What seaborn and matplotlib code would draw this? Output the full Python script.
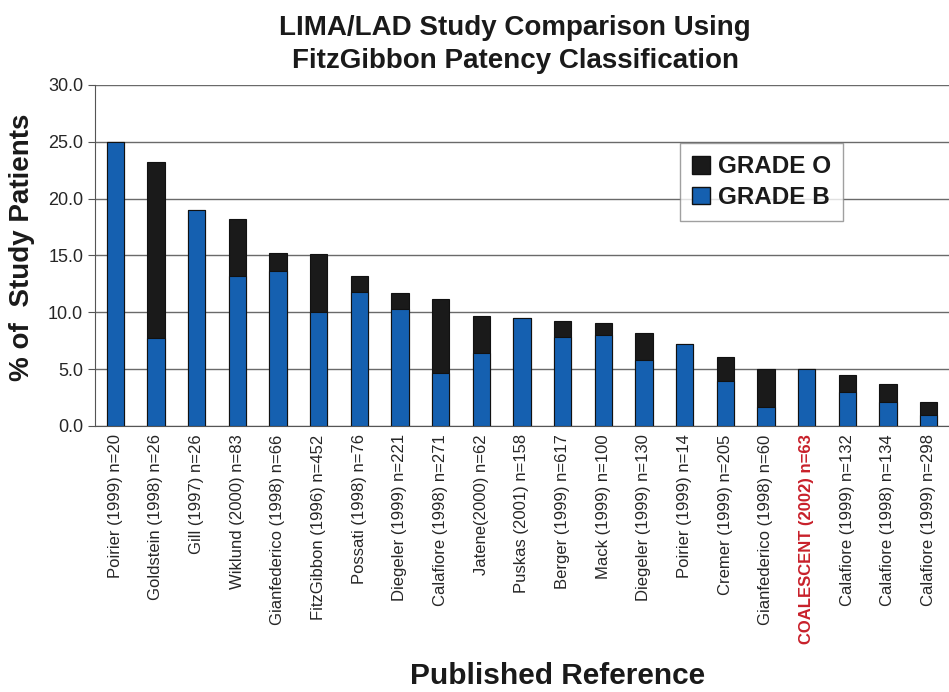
import matplotlib
matplotlib.use("Agg")
import matplotlib.pyplot as plt
import seaborn as sns
import pandas as pd
import numpy as np
from matplotlib.patches import Patch

references = ["Poirier (1999) n=20", "Goldstein (1998) n=26", "Gill (1997) n=26",
              "Wiklund (2000) n=83", "Gianfederico (1998) n=66", "FitzGibbon (1996) n=452",
              "Possati (1998) n=76", "Diegeler (1999) n=221", "Calafiore (1998) n=271",
              "Jatene(2000) n=62", "Puskas (2001) n=158", "Berger (1999) n=617",
              "Mack (1999) n=100", "Diegeler (1999) n=130", "Poirier (1999) n=14",
              "Cremer (1999) n=205", "Gianfederico (1998) n=60", "COALESCENT (2002) n=63",
              "Calafiore (1999) n=132", "Calafiore (1998) n=134", "Calafiore (1999) n=298"]
grade_b = [25.0, 7.7, 19.0, 13.2, 13.6, 10.0, 11.8, 10.3, 4.7, 6.4, 9.5,
           7.8, 8.0, 5.8, 7.2, 4.0, 1.7, 5.0, 3.0, 2.1, 1.0]
grade_o = [0.0, 15.5, 0.0, 5.0, 1.6, 5.1, 1.4, 1.4, 6.5, 3.3, 0.0,
           1.4, 1.1, 2.4, 0.0, 2.1, 3.3, 0.0, 1.5, 1.6, 1.1]
highlight = "COALESCENT (2002) n=63"
title_lines = ["LIMA/LAD Study Comparison Using", "FitzGibbon Patency Classification"]

blue = "#1560b0"
black = "#1a1a1a"

df = pd.DataFrame({"ref": references, "B": grade_b, "O": grade_o})
df["total"] = df["B"] + df["O"]

sns.set_style("white")
plt.rcParams["font.family"] = ["Liberation Sans", "DejaVu Sans"]

fig = plt.figure(figsize=(9.49, 6.92), dpi=100)
ax = fig.add_axes([0.1001, 0.3844, 0.8999, 0.4928])

sns.barplot(data=df, x="ref", y="total", color=black, width=0.43,
            edgecolor="#111111", linewidth=0.8, saturation=1, ax=ax, zorder=3)
sns.barplot(data=df, x="ref", y="B", color=blue, width=0.43,
            edgecolor="#111111", linewidth=0.8, saturation=1, ax=ax, zorder=4)

n = len(references)
ax.set_xlim(-0.5, n - 0.5)
ax.set_ylim(0, 30)
ax.set_yticks(np.arange(0, 30.1, 5))
ax.set_yticklabels([f"{v:.1f}" for v in np.arange(0, 30.1, 5)], fontsize=13)
ax.yaxis.grid(True, color="#6a6a6a", linewidth=1.0, zorder=0)
ax.set_axisbelow(True)

ax.set_xticks(range(n))
ax.set_xticklabels(references, rotation=90, fontsize=12)
for lbl in ax.get_xticklabels():
    if lbl.get_text() == highlight:
        lbl.set_color("#c8202a")
        lbl.set_fontweight("bold")
ax.set_xticks(np.arange(-0.5, n, 1), minor=True)
ax.tick_params(axis="x", which="major", length=0, pad=6)
ax.tick_params(axis="x", which="minor", length=5, color="#555555", direction="out")
ax.tick_params(axis="y", which="major", length=5, color="#555555", direction="out", left=True)

for s in ["top", "right"]:
    ax.spines[s].set_visible(False)
ax.spines["left"].set_color("#555555")
ax.spines["bottom"].set_color("#555555")

ax.set_ylabel("% of  Study Patients", fontsize=20, fontweight="bold", color="#1a1a1a")
ax.yaxis.set_label_coords(-(95 - 22) / 854, (426 - 247) / 341, transform=ax.transAxes)
ax.yaxis.label.set_va("center")
ax.set_xlabel("Published Reference", fontsize=21.5, fontweight="bold", color="#1a1a1a")
ax.xaxis.set_label_coords((558 - 95) / 854, -(676 - 426) / 341, transform=ax.transAxes)
ax.xaxis.label.set_va("center")

handles = [Patch(facecolor=black, edgecolor="#111111", label="GRADE O"),
           Patch(facecolor=blue, edgecolor="#111111", label="GRADE B")]
leg = ax.legend(handles=handles, loc="upper left",
                bbox_to_anchor=((680 - 95) / 854, (426 - 143) / 341),
                prop={"weight": "bold", "size": 17.5}, frameon=True, fancybox=False,
                edgecolor="#888888", handlelength=0.75, handleheight=0.75,
                handletextpad=0.3, borderpad=0.5, labelspacing=0.32,
                borderaxespad=0)
leg.get_frame().set_linewidth(1.0)
for t in leg.get_texts():
    t.set_color("#1a1a1a")

for line, base in zip(title_lines, [35, 68]):
    fig.text(515 / 949, 1 - base / 692, line, ha="center", va="baseline",
             fontsize=20, fontweight="bold", color="#1a1a1a")

fig.savefig("out.png", dpi=100)
